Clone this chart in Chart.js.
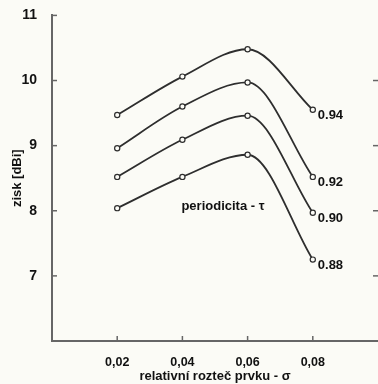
<!DOCTYPE html>
<html lang="cs">
<head>
<meta charset="UTF-8">
<title>zisk vs. relativní rozteč</title>
<script src="https://cdn.jsdelivr.net/npm/chart.js"></script>
<style>
  html, body { margin: 0; padding: 0; background: #fbfbf6; }
  #wrap { width: 378px; height: 384px; position: relative; }
</style>
</head>
<body>
<div id="wrap"><canvas id="myChart" width="378" height="384"></canvas></div>

<script>
    // data
    const sigma = [0.02, 0.04, 0.06, 0.08];
    const tau = ['0.94', '0.92', '0.90', '0.88'];
    const gain094 = [9.47, 10.06, 10.48, 9.55];
    const gain092 = [8.96, 9.60, 9.97, 8.52];
    const gain090 = [8.52, 9.09, 9.46, 7.97];
    const gain088 = [8.04, 8.52, 8.86, 7.25];
    const xTicks = [0.02, 0.04, 0.06, 0.08];
    const yTicks = [7, 8, 9, 10, 11];

    const ink = '#2e2e2e';
    const axisGray = '#666';
    const fam = '"Liberation Sans", Arial, sans-serif';

    function series(vals, i) {
        return {
            label: tau[i],
            data: sigma.map((s, k) => ({x: s, y: vals[k]})),
            borderColor: ink,
            borderWidth: 1.8,
            cubicInterpolationMode: 'monotone',
            pointRadius: 2.6,
            pointBorderWidth: 1.2,
            pointBackgroundColor: '#fbfbf6',
            pointBorderColor: ink
        };
    }

    // inward ticks, curve labels and the note
    const extras = {
        id: 'extras',
        afterDraw(chart) {
            const ctx = chart.ctx;
            const xs = chart.scales.x, ys = chart.scales.y;
            const area = chart.chartArea;
            ctx.save();
            ctx.strokeStyle = axisGray;
            ctx.lineWidth = 1.5;
            xTicks.forEach(v => {
                const px = xs.getPixelForValue(v);
                ctx.beginPath();
                ctx.moveTo(px, area.bottom);
                ctx.lineTo(px, area.bottom - 5);
                ctx.stroke();
            });
            yTicks.forEach(v => {
                const py = ys.getPixelForValue(v);
                ctx.beginPath();
                ctx.moveTo(area.left, py);
                ctx.lineTo(area.left + 5, py);
                ctx.stroke();
                if (v < 11) {
                    ctx.beginPath();
                    ctx.moveTo(area.right, py);
                    ctx.lineTo(area.right - 5, py);
                    ctx.stroke();
                }
            });

            ctx.fillStyle = '#111';
            ctx.font = 'bold 13px ' + fam;
            ctx.textAlign = 'left';
            ctx.textBaseline = 'middle';
            chart.data.datasets.forEach((ds, i) => {
                const pts = chart.getDatasetMeta(i).data;
                const last = pts[pts.length - 1];
                ctx.fillText(ds.label, last.x + 5, last.y + 6);
            });

            ctx.fillText('periodicita - \u03c4', xs.getPixelForValue(0.0397), ys.getPixelForValue(8.06));
            ctx.restore();
        }
    };

    new Chart(document.getElementById('myChart'), {
        type: 'line',
        data: {
            datasets: [series(gain094, 0), series(gain092, 1), series(gain090, 2), series(gain088, 3)]
        },
        options: {
            responsive: false,
            animation: false,
            layout: { autoPadding: false, padding: { top: 15, right: 0, left: 0, bottom: 0 } },
            plugins: { legend: { display: false }, tooltip: { enabled: false } },
            scales: {
                x: {
                    type: 'linear',
                    min: 0,
                    max: 0.1,
                    afterBuildTicks: s => { s.ticks = xTicks.map(v => ({value: v})); },
                    afterFit: s => { s.height = 43; },
                    grid: { display: false },
                    border: { display: true, color: axisGray, width: 2 },
                    ticks: {
                        padding: 6,
                        color: '#111',
                        font: { family: fam, size: 12.5, weight: 'bold' },
                        callback: v => v.toFixed(2).replace('.', ',')
                    },
                    title: {
                        display: true,
                        text: 'relativní rozteč prvku - \u03c3',
                        color: '#111',
                        padding: { top: 0, bottom: 0 },
                        font: { family: fam, size: 13, weight: 'bold' }
                    }
                },
                y: {
                    min: 6,
                    max: 11,
                    afterBuildTicks: s => { s.ticks = yTicks.map(v => ({value: v})); },
                    afterFit: s => { s.width = 52; },
                    grid: { display: false },
                    border: { display: true, color: axisGray, width: 2 },
                    ticks: {
                        padding: 7,
                        color: '#111',
                        font: { family: fam, size: 14, weight: 'bold' }
                    },
                    title: {
                        display: true,
                        text: 'zisk [dBi]',
                        color: '#111',
                        padding: { top: 10, bottom: 0 },
                        font: { family: fam, size: 13, weight: 'bold' }
                    }
                }
            }
        },
        plugins: [extras]
    });
</script>
</body>
</html>
